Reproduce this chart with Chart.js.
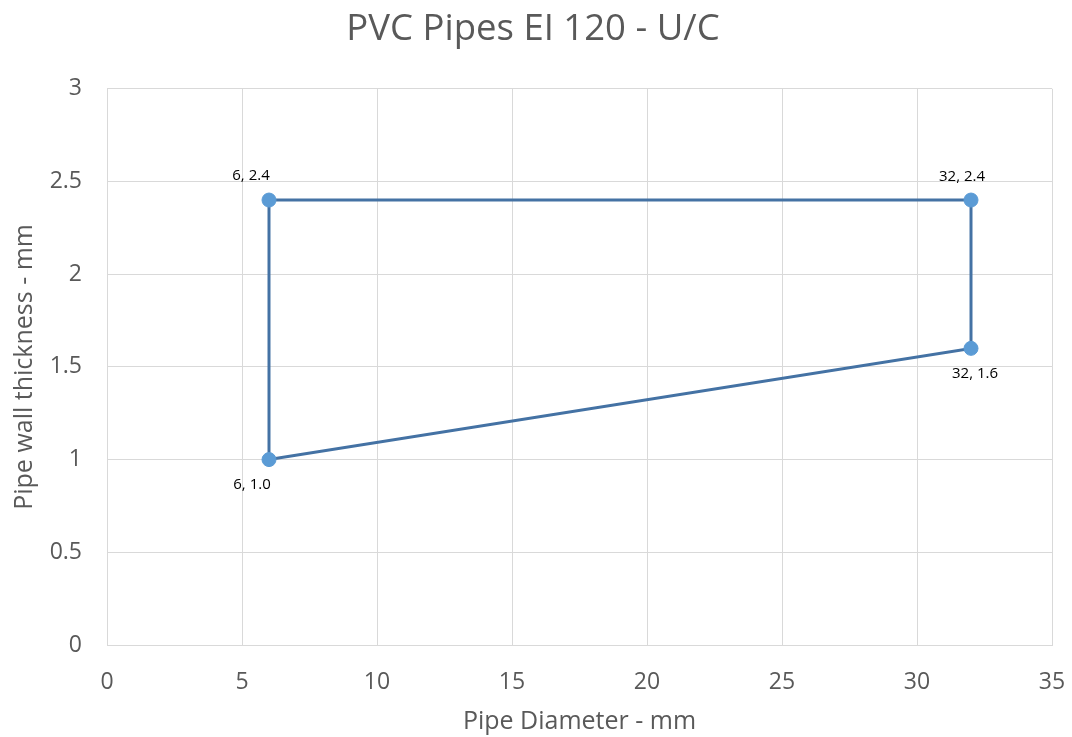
<!DOCTYPE html>
<html>
<head>
<meta charset="utf-8">
<script src="https://cdn.jsdelivr.net/npm/chart.js@4.4.0/dist/chart.umd.min.js"></script>
<style>
  html, body { margin: 0; padding: 0; background: #fff; }
  #wrap { width: 1072px; height: 737px; }
</style>
</head>
<body>
<div id="wrap"><canvas id="myChart" width="1072" height="737"></canvas></div>
<script>
// punti del grafico (diametro, spessore)
const diametri = [6, 32, 32, 6];
const spessori = [2.4, 2.4, 1.6, 1.0];
const etichette = ['6, 2.4', '32, 2.4', '32, 1.6', '6, 1.0'];

// dove mettere le etichette rispetto al punto (px)
const offsetEtichette = [[-18, -24], [-9, -23], [4, 25], [-17, 25]];

const grigio = '#595959';
const fontBase = "'Open Sans', sans-serif";

// contorno chiuso: ritorna al primo punto
const contorno = diametri.concat(diametri[0]).map((x, i) => ({ x: x, y: spessori.concat(spessori[0])[i] }));
const punti = diametri.map((x, i) => ({ x: x, y: spessori[i] }));

const pluginEtichette = {
  id: 'etichette',
  afterDatasetsDraw(chart) {
    const ctx = chart.ctx;
    const meta = chart.getDatasetMeta(1);
    ctx.save();
    ctx.font = "15px " + fontBase;
    ctx.fillStyle = '#000';
    ctx.textAlign = 'center';
    ctx.textBaseline = 'middle';
    meta.data.forEach((p, i) => {
      const o = offsetEtichette[i];
      ctx.fillText(etichette[i], p.x + o[0], p.y + o[1]);
    });
    ctx.restore();
  }
};

const ctx = document.getElementById('myChart').getContext('2d');
const myChart = new Chart(ctx, {
  type: 'scatter',
  data: {
    datasets: [{
      label: 'contorno',
      data: contorno,
      showLine: true,
      borderColor: '#4472A4',
      borderWidth: 3,
      pointRadius: 0,
      pointHoverRadius: 0,
      order: 2
    }, {
      label: 'punti',
      data: punti,
      showLine: false,
      backgroundColor: '#5B9BD5',
      borderColor: '#5B9BD5',
      pointRadius: 7,
      order: 1
    }]
  },
  plugins: [pluginEtichette],
  options: {
    responsive: false,
    animation: false,
    layout: { padding: { left: 1, right: 7, top: 0, bottom: 0 } },
    plugins: {
      legend: { display: false },
      tooltip: { enabled: false },
      title: {
        display: true,
        text: 'PVC Pipes EI 120 - U/C',
        color: grigio,
        font: { family: fontBase, size: 36.5, weight: 'normal' },
        padding: { top: 8, bottom: 37 }
      }
    },
    scales: {
      x: {
        type: 'linear',
        min: 0,
        max: 35,
        afterFit: (s) => { s.height = 92; s.paddingRight = 20; },
        ticks: { stepSize: 5, color: grigio, padding: 24, font: { family: fontBase, size: 23 } },
        grid: { color: '#d9d9d9', drawTicks: false },
        border: { color: '#d9d9d9' },
        title: {
          display: true,
          text: 'Pipe Diameter - mm',
          color: grigio,
          font: { family: fontBase, size: 25 },
          padding: { top: 0, bottom: 0 }
        }
      },
      y: {
        min: 0,
        max: 3,
        afterFit: (s) => { s.width = 106; },
        ticks: {
          stepSize: 0.5, color: grigio, padding: 25,
          font: { family: fontBase, size: 23 },
          callback: (v) => String(v)
        },
        grid: { color: '#d9d9d9', drawTicks: false },
        border: { color: '#d9d9d9' },
        title: {
          display: true,
          text: 'Pipe wall thickness - mm',
          color: grigio,
          font: { family: fontBase, size: 25, lineHeight: 1.2 },
          padding: { top: 9, bottom: 0 }
        }
      }
    }
  }
});
</script>
</body>
</html>
